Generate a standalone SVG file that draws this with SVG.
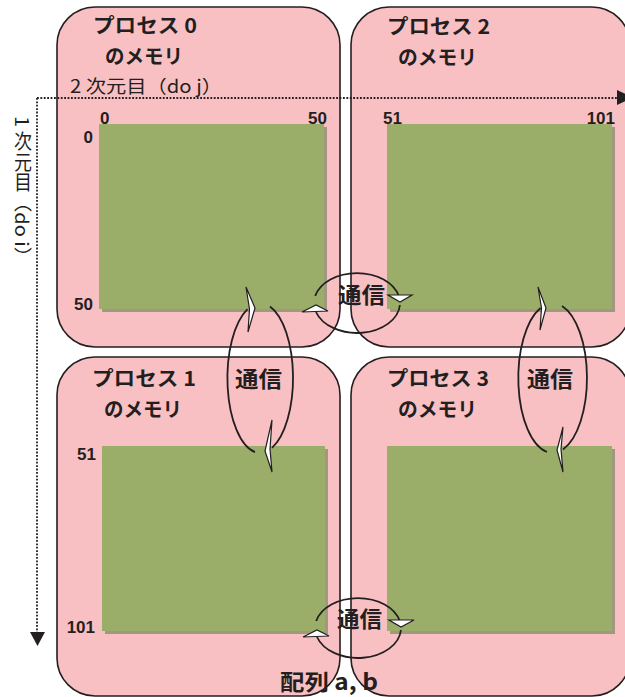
<svg xmlns="http://www.w3.org/2000/svg" width="625" height="697" viewBox="0 0 625 697">
<style>
.box{fill:#f9c0c3;stroke:#231f20;stroke-width:1.6}
.shadow{fill:#a0987f}
.green{fill:#9aad69}
.title{font-family:"Noto Sans CJK JP",sans-serif;font-weight:bold;font-size:20px;fill:#231f20}
.num{font-family:"Liberation Sans",Arial,sans-serif;font-weight:bold;font-size:17px;fill:#231f20}
.axis{font-family:"Noto Sans CJK JP",sans-serif;font-size:18px;fill:#231f20}
.comm{font-family:"Noto Sans CJK JP",sans-serif;font-weight:bold;font-size:22px;fill:#231f20}
.dot{fill:none;stroke:#231f20;stroke-width:1.8;stroke-dasharray:1.8 1.6}
.arc{fill:none;stroke:#231f20;stroke-width:1.8}
.head{fill:#ffffff;stroke:#231f20;stroke-width:1.2;stroke-linejoin:miter}
</style>
<rect width="625" height="697" fill="#ffffff"/>

<g id="process0">
<rect class="box" x="57" y="7" width="283" height="340" rx="38" ry="38"/>
<rect class="shadow" x="102" y="127" width="225" height="185"/>
<rect class="green" x="99" y="124" width="225" height="185"/>
<text class="title" x="93" y="33" textLength="104" lengthAdjust="spacingAndGlyphs">プロセス 0</text>
<text class="title" x="105" y="64" textLength="78" lengthAdjust="spacingAndGlyphs">のメモリ</text>
</g>

<g id="process2">
<rect class="box" x="351" y="7" width="279" height="340" rx="38" ry="38"/>
<rect class="shadow" x="390" y="127" width="225" height="185"/>
<rect class="green" x="387" y="124" width="225" height="185"/>
<text class="title" x="387" y="34" textLength="103" lengthAdjust="spacingAndGlyphs">プロセス 2</text>
<text class="title" x="398" y="65" textLength="79" lengthAdjust="spacingAndGlyphs">のメモリ</text>
</g>

<g id="process1">
<rect class="box" x="57" y="357" width="283" height="339" rx="38" ry="38"/>
<rect class="shadow" x="105" y="449" width="223" height="185"/>
<rect class="green" x="102" y="446" width="223" height="185"/>
<text class="title" x="92" y="386" textLength="104" lengthAdjust="spacingAndGlyphs">プロセス 1</text>
<text class="title" x="104" y="417" textLength="78" lengthAdjust="spacingAndGlyphs">のメモリ</text>
</g>

<g id="process3">
<rect class="box" x="351" y="357" width="279" height="339" rx="38" ry="38"/>
<rect class="shadow" x="390" y="449" width="225" height="185"/>
<rect class="green" x="387" y="446" width="225" height="185"/>
<text class="title" x="387" y="386" textLength="102" lengthAdjust="spacingAndGlyphs">プロセス 3</text>
<text class="title" x="398" y="417" textLength="79" lengthAdjust="spacingAndGlyphs">のメモリ</text>
</g>

<g id="axes">
<path class="dot" d="M37,98 H618"/>
<path class="dot" d="M37,98 V632"/>
<polygon points="617,90 617,105 633,97.5" fill="#231f20"/>
<polygon points="30,632 45,632 37.5,646" fill="#231f20"/>
<text class="axis" x="70" y="93" textLength="152" lengthAdjust="spacingAndGlyphs">2 次元目（do j）</text>
<text class="axis" x="23" y="116" style="writing-mode:vertical-rl" textLength="151" lengthAdjust="spacingAndGlyphs">1 次元目（do i）</text>
</g>

<g id="indices">
<text class="num" x="100" y="124">0</text>
<text class="num" x="327" y="124" text-anchor="end">50</text>
<text class="num" x="383" y="124">51</text>
<text class="num" x="615" y="124" text-anchor="end">101</text>
<text class="num" x="93" y="143" text-anchor="end">0</text>
<text class="num" x="93" y="310" text-anchor="end">50</text>
<text class="num" x="96" y="460" text-anchor="end">51</text>
<text class="num" x="95" y="633" text-anchor="end">101</text>
</g>

<g id="connectors">
<!-- top center loop -->
<path class="arc" d="M315.2,296 A43,30 0 0 1 398.8,296"/>
<polygon class="head" points="388,295 412,295 400,302"/>
<path class="arc" d="M399.9,305 A43,30 0 0 1 316,312"/>
<polygon class="head" points="302,312 328,311 316,305"/>
<!-- bottom center loop -->
<path class="arc" d="M316.2,621 A43,30 0 0 1 399.8,621"/>
<polygon class="head" points="389,620 414,620 401,627"/>
<path class="arc" d="M400.9,630 A43,30 0 0 1 317,637"/>
<polygon class="head" points="303,637 329,636 317,630"/>
<!-- left middle loop -->
<path class="arc" d="M255,452.1 A33,75 0 0 1 247.5,309.1"/>
<polygon class="head" points="246,287 255,308 248,332 249.5,309"/>
<path class="arc" d="M270,306.5 A33,75 0 0 1 272,447.9"/>
<polygon class="head" points="272,420 265,451 272,472 270,449"/>
<!-- right middle loop -->
<path class="arc" d="M547,452 A34.5,75 0 0 1 540.5,308"/>
<polygon class="head" points="538,287 546,308 540,330 541.5,308"/>
<path class="arc" d="M562,305.9 A34.5,75 0 0 1 563,449.4"/>
<polygon class="head" points="563,427 557,450 563,472 561,449"/>
</g>

<g id="labels">
<text class="comm" x="361.5" y="303" text-anchor="middle" textLength="47" lengthAdjust="spacingAndGlyphs">通信</text>
<text class="comm" x="258.5" y="387" text-anchor="middle" textLength="47" lengthAdjust="spacingAndGlyphs">通信</text>
<text class="comm" x="550" y="387" text-anchor="middle" textLength="46" lengthAdjust="spacingAndGlyphs">通信</text>
<text class="comm" x="359.5" y="627" text-anchor="middle" textLength="45" lengthAdjust="spacingAndGlyphs">通信</text>
<text class="comm" x="280" y="690" textLength="98" lengthAdjust="spacingAndGlyphs">配列 a, b</text>
</g>
</svg>
